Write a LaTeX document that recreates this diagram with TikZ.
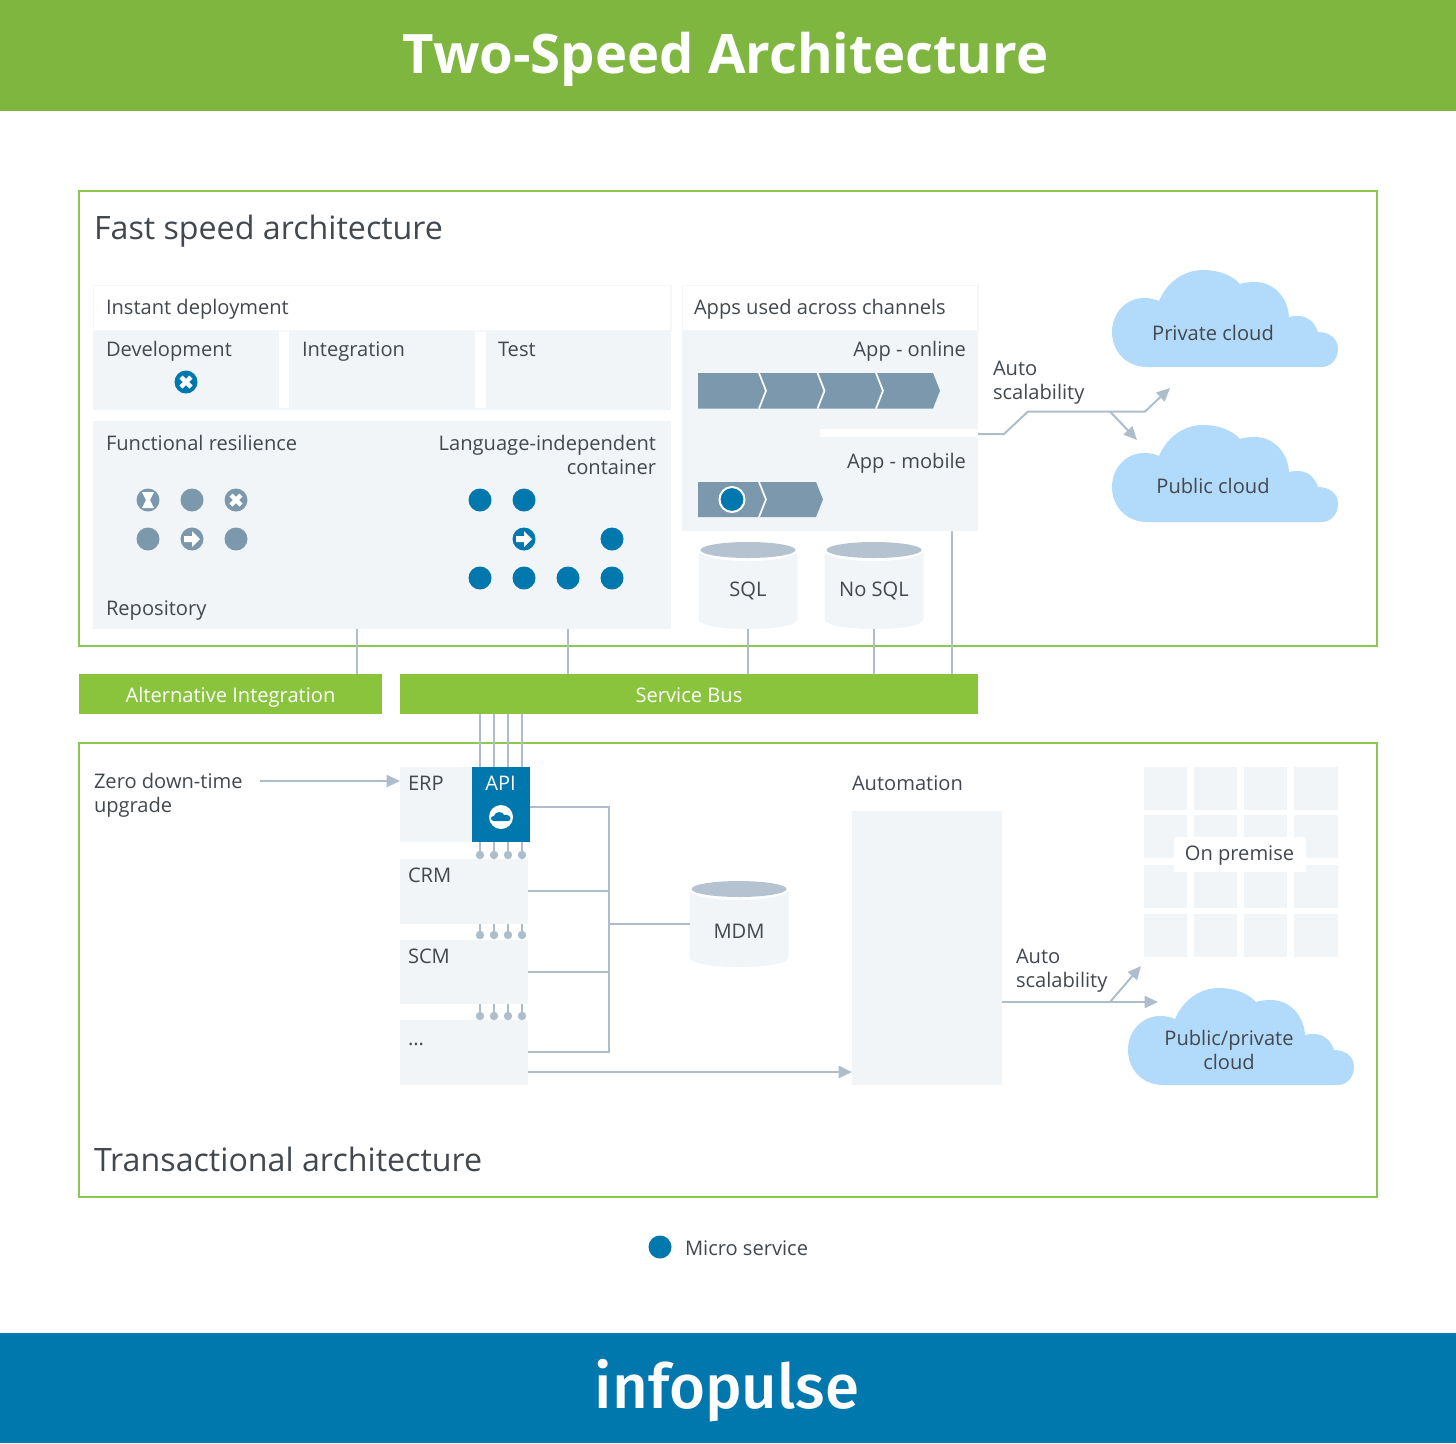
\documentclass[tikz,border=0pt]{standalone}
\usepackage{fontspec}
\setmainfont{Open Sans}
\newfontfamily\firamed{Fira Sans Medium}
\usetikzlibrary{arrows.meta}
\definecolor{hgreen}{HTML}{7FB63F}
\definecolor{bargreen}{HTML}{8AC43D}
\definecolor{framegreen}{HTML}{8CC751}
\definecolor{ipblue}{HTML}{0077AD}
\definecolor{panelc}{HTML}{F2F5F8}
\definecolor{edgec}{HTML}{F5F7FA}
\definecolor{linec}{HTML}{AEBDCC}
\definecolor{slatec}{HTML}{7C98AC}
\definecolor{cloudc}{HTML}{B2DAFB}
\definecolor{inkc}{HTML}{42484D}
\definecolor{topc}{HTML}{B5C3D0}
\tikzset{
  bxbase/.style={inner sep=0pt,outer sep=0pt,draw=none},
  panel/.style={bxbase,fill=panelc},
  head/.style={bxbase,fill=white,draw=edgec,line width=1pt},
  frameb/.style={bxbase,draw=framegreen,line width=1.8pt},
  barb/.style={bxbase,fill=bargreen},
  apib/.style={bxbase,fill=ipblue},
  txt/.style={inner sep=0pt,outer sep=0pt,text=inkc,font=\fontsize{15.08}{18}\selectfont},
  big/.style={txt,font=\fontsize{24.15}{29}\selectfont},
  wtxt/.style={txt,text=white},
  conn/.style={draw=linec,line width=1.5pt},
  arr/.style={conn,-{Triangle[length=10pt,width=9pt]}},
  dotc/.style={fill=linec},
}
\newcommand{\bx}[6][panel]{%
  \pgfmathsetmacro\bxw{(#5-#3)*0.75}\pgfmathsetmacro\bxh{(#6-#4)*0.75}%
  \pgfmathsetmacro\bxcx{(#3+#5)/2}\pgfmathsetmacro\bxcy{(#4+#6)/2}%
  \node[#1,minimum width=\bxw pt,minimum height=\bxh pt] (#2) at (\bxcx,\bxcy) {};}
\newcommand{\cloudat}[2]{%
  \fill[cloudc,shift={(#1,#2)}] (35,97) .. controls (15,97) and (0,82) .. (0,62)
   .. controls (0,42) and (15,28) .. (32,28) .. controls (38,28) and (43,29) .. (47,31)
   .. controls (55,12) and (72,0) .. (91,0) .. controls (106,0) and (120,5) .. (128,14)
   .. controls (132,12.5) and (137,12) .. (143,12) .. controls (162,12) and (176,28) .. (177,47)
   .. controls (180,46) and (183,46) .. (186,46) .. controls (196,46) and (203,53) .. (206,62)
   .. controls (218,62) and (226,69) .. (226,79) .. controls (226,90) and (218,97) .. (210,97) -- cycle;}
\newcommand{\cyl}[4]{% name, cx, top, bottom
  \fill[panelc,shift={(#2,0)}] (-49.5,#3+12) -- (-49.5,#4-10) .. controls (-49.5,#4-3) and (-25,#4) .. (0,#4)
    .. controls (25,#4) and (49.5,#4-3) .. (49.5,#4-10) -- (49.5,#3+12) -- cycle;
  \fill[white] (#2,#3+9) ellipse [x radius=50.5,y radius=11];
  \fill[topc] (#2,#3+9) ellipse [x radius=47.5,y radius=8];
  \coordinate (#1bot) at (#2,#4);
  \coordinate (#1mid) at (#2-49.5,#3+44);}
\newcommand{\msdot}[3]{\fill[#1] (#2,#3) circle [radius=11.5];}
\newcommand{\xicon}[3]{\msdot{#1}{#2}{#3}\draw[white,line width=3.2pt] (#2-5,#3-5) -- (#2+5,#3+5) (#2-5,#3+5) -- (#2+5,#3-5);}
\newcommand{\arricon}[3]{\msdot{#1}{#2}{#3}\fill[white,shift={(#2,#3)}] (-8,-3) -- (0,-3) -- (0,-8) -- (8,0) -- (0,8) -- (0,3) -- (-8,3) -- cycle;}
\newcommand{\hourglass}[3]{\msdot{#1}{#2}{#3}\fill[white,shift={(#2,#3)}] (-6,-8) -- (6,-8) -- (2,0) -- (6,8) -- (-6,8) -- (-2,0) -- cycle;}
\newcommand{\chev}[4]{% y1, y2, xbody-end, list of separators
  \pgfmathsetmacro\chm{(#1+#2)/2}%
  \fill[slatec] (698,#1) -- (#3,#1) -- (#3+7,\chm) -- (#3,#2) -- (698,#2) -- cycle;
  \foreach \s in {#4} {\draw[white,line width=1.3pt] (\s,#1) -- (\s+7,\chm) -- (\s,#2);}}
\begin{document}
\begin{tikzpicture}[x=0.75pt,y=-0.75pt]
\path[use as bounding box] (0,0) rectangle (1456,1443);
\bx[bxbase,fill=hgreen]{header}{0}{0}{1456}{111}
\bx[bxbase,fill=ipblue]{footer}{0}{1333}{1456}{1443}
\node[inner sep=0pt,anchor=base,text=white,font=\bfseries\fontsize{40.8}{48}\selectfont] (title) at (725.5,73) {Two-Speed Architecture};
\node[inner sep=0pt,anchor=base,text=white,font=\firamed\fontsize{46.3}{56}\selectfont] (brand) at (727,1408) {infopulse};

% frames
\bx[frameb]{fast}{79}{191}{1377}{646}
\bx[frameb]{trans}{79}{743}{1377}{1197}
\node[big,anchor=base west] (fastl) at (94,239) {Fast speed architecture};
\node[big,anchor=base west] (transl) at (94,1171) {Transactional architecture};

% instant deployment
\bx[head]{inst}{93.5}{285.5}{671}{331}
\bx{dev}{93}{331}{279}{410}
\bx{integ}{289}{331}{475}{410}
\bx{test}{486}{331}{671}{410}
\fill[panelc] (93,408) rectangle (671,410);
\node[txt,anchor=base west] (instl) at (106,314) {Instant deployment};
\node[txt,anchor=base west] (devl) at (106,356) {Development};
\node[txt,anchor=base west] (integl) at (302,356) {Integration};
\node[txt,anchor=base west] (testl) at (498,356) {Test};
\xicon{ipblue}{186}{382}

% repository panel
\bx{repo}{93}{421}{671}{629}
\node[txt,anchor=base west] (funcl) at (106,450) {Functional resilience};
\node[txt,anchor=base east,align=right] (langl) at (656,450) {Language-independent};
\node[txt,anchor=base east] (contl) at (656,474) {container};
\node[txt,anchor=base west] (repol) at (106,615) {Repository};
\hourglass{slatec}{148}{500}
\msdot{slatec}{192}{500}
\xicon{slatec}{236}{500}
\msdot{slatec}{148}{539}
\arricon{slatec}{192}{539}
\msdot{slatec}{236}{539}
\msdot{ipblue}{480}{500}
\msdot{ipblue}{524}{500}
\arricon{ipblue}{524}{539}
\msdot{ipblue}{612}{539}
\foreach \x in {480,524,568,612} {\msdot{ipblue}{\x}{578}}

% apps
\bx[head]{apphead}{682.5}{285.5}{978}{331}
\bx{apps}{682}{331}{978}{531}
\fill[white] (820,429) rectangle (978,437);
\node[txt,anchor=base west] (appsl) at (694,314) {Apps used across channels};
\node[txt,anchor=base east] (onl) at (966,356) {App - online};
\node[txt,anchor=base east] (mobl) at (966,468) {App - mobile};
\chev{373}{408.5}{933}{759,817.5,876}
\chev{482}{517}{816}{759}
\draw[white,line width=1.5pt,fill=ipblue] (732,499.5) circle [radius=12.5];

% databases
\cyl{sql}{748}{541}{629}
\cyl{nosql}{874}{541}{629}
\cyl{mdm}{739}{880}{967}
\node[txt,anchor=base] (sqll) at (748,596) {SQL};
\node[txt,anchor=base] (nosqll) at (874,596) {No SQL};
\node[txt,anchor=base] (mdml) at (739,938) {MDM};

% clouds
\cloudat{1112}{270}
\cloudat{1112}{425}
\cloudat{1128}{988}
\node[txt,anchor=base] (privl) at (1213,340) {Private cloud};
\node[txt,anchor=base] (publ) at (1213,493) {Public cloud};
\node[txt,anchor=base] (ppl) at (1229,1045) {Public/private};
\node[txt,anchor=base] (ppl2) at (1229,1069) {cloud};

% bars
\bx[barb]{alt}{79}{674}{382}{714}
\bx[barb]{bus}{400}{674}{978}{714}
\node[wtxt,anchor=base] (altl) at (230.5,702) {Alternative Integration};
\node[wtxt,anchor=base] (busl) at (689,702) {Service Bus};

% transactional boxes
\bx{erp}{400}{767}{528}{842}
\bx{crm}{400}{859}{528}{924}
\bx{scm}{400}{940}{528}{1004}
\bx{etc}{400}{1020}{528}{1085}
\bx[apib]{api}{472}{767}{530}{842}
\node[txt,anchor=base west] (erpl) at (408,790) {ERP};
\node[txt,anchor=base west] (crml) at (408,882) {CRM};
\node[txt,anchor=base west] (scml) at (408,963) {SCM};
\node[txt,anchor=base west] (etcl) at (408,1045) {...};
\node[wtxt,anchor=base] (apil) at (500.5,790) {API};
\fill[white] (501,817) circle [radius=12];
\fill[ipblue,shift={(501,817)}] (-7,4) .. controls (-11,4) and (-11,-1) .. (-7,-1) .. controls (-6,-6) and (2,-6) .. (3,-2) .. controls (7,-3) and (11,0) .. (9,3) .. controls (8.5,4) and (8,4) .. (7,4) -- cycle;
\node[txt,anchor=base west] (zerol) at (94,788) {Zero down-time};
\node[txt,anchor=base west] (zerol2) at (94,812) {upgrade};
\node[txt,anchor=base west] (autol) at (852,790) {Automation};
\bx{autob}{852}{811}{1002}{1085}

% on premise grid
\foreach \xa/\xb [count=\i] in {1144/1187,1194/1237,1244/1287,1294/1338}
  \foreach \ya/\yb [count=\j] in {767/810,815/858,865/908,914/957}
    {\bx{grid\i\j}{\xa}{\ya}{\xb}{\yb}}
\bx[bxbase,fill=white]{onprem}{1174}{837}{1306}{872}
\node[txt,anchor=base] (onpreml) at (1239.5,860) {On premise};

% scalability labels
\node[txt,anchor=base west] (as1) at (993,375) {Auto};
\node[txt,anchor=base west] (as1b) at (993,399) {scalability};
\node[txt,anchor=base west] (as2) at (1016,963) {Auto};
\node[txt,anchor=base west] (as2b) at (1016,987) {scalability};

% connectors
\foreach \x in {357,568} {\draw[conn] (\x,0 |- repo.south) -- (\x,0 |- bus.north);}
\draw[conn] (sqlbot) -- (748,0 |- bus.north);
\draw[conn] (nosqlbot) -- (874,0 |- bus.north);
\draw[conn] (952,0 |- apps.south) -- (952,0 |- bus.north);
\foreach \x in {480,494,508,522} {
  \draw[conn] (\x,0 |- bus.south) -- (\x,0 |- api.north);
  \draw[conn] (\x,0 |- api.south) -- (\x,855);
  \fill[dotc] (\x,855) circle [radius=4.2];
  \draw[conn] (\x,0 |- crm.south) -- (\x,935);
  \fill[dotc] (\x,935) circle [radius=4.2];
  \draw[conn] (\x,0 |- scm.south) -- (\x,1016);
  \fill[dotc] (\x,1016) circle [radius=4.2];
}
\coordinate (busv) at (609,924);
\draw[conn] (api.east |- 0,807) -- (609,807) -- (609,1052) -- (etc.east |- 0,1052);
\draw[conn] (crm.east |- 0,891) -- (609,891);
\draw[conn] (scm.east |- 0,972) -- (609,972);
\draw[conn] (busv) -- (mdmmid);
\draw[arr] (etc.east |- 0,1072) -- (autob.west |- 0,1072);
\coordinate (zs) at (260,781);
\draw[arr] (zs) -- (erp.west |- zs);
\coordinate (a1b) at (1110,1002);
\draw[arr] (autob.east |- a1b) -- (1158,1002);
\draw[arr] (a1b) -- (1141,966);
\coordinate (a2b) at (1110,411.5);
\draw[arr] (apps.east |- 0,434) -- (1004,434) -- (1028,411.5) -- (1145,411.5) -- (1170,388);
\draw[arr] (a2b) -- (1137,440);

% legend
\msdot{ipblue}{660}{1247}
\node[txt,anchor=base west] (legl) at (685,1255) {Micro service};
\end{tikzpicture}
\end{document}
